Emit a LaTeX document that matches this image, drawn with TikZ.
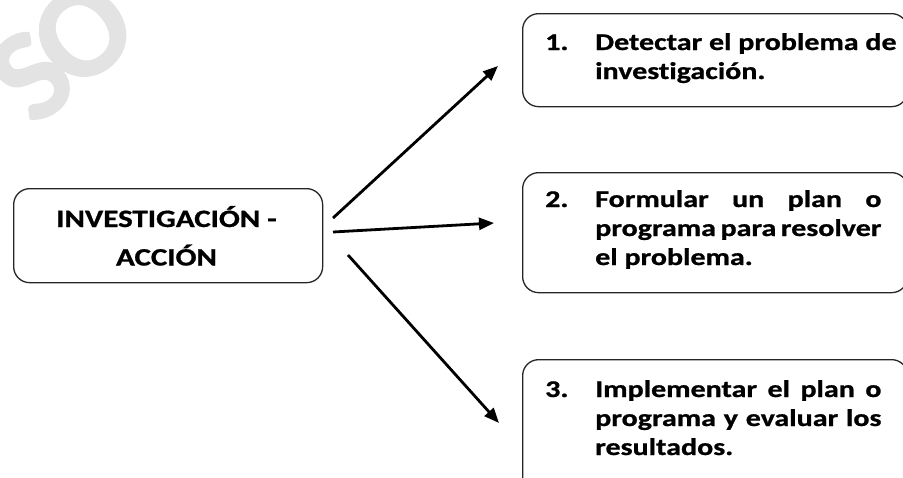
\documentclass[tikz,border=0pt]{standalone}
\usepackage{fontspec}
\usepackage{graphicx}
\setmainfont{Carlito}[Ligatures=NoCommon, BoldFeatures={FakeBold=0.8}]
\usetikzlibrary{arrows.meta}
\tikzset{
  box/.style={draw=black!85, line width=1.3pt, rounded corners=16pt, anchor=north west, inner sep=0pt},
  txt/.style={anchor=base west, inner sep=0pt, font=\fontsize{24}{29}\selectfont\bfseries},
  conn/.style={line width=2.8pt, -{Triangle[length=15pt,width=12pt]}},
  wm/.style={text=black!11, font=\fontsize{132}{132}\selectfont\bfseries, inner sep=0pt}
}
\newcommand{\wide}[1]{\scalebox{1.25}[1]{#1}}
\begin{document}
\begin{tikzpicture}[x=1pt,y=-1pt]
\useasboundingbox (0,0) rectangle (903,477);
\fill[white] (0,0) rectangle (903,477);
\clip (0,0) rectangle (903,477);
% watermark
\node[wm, rotate=40] (wmark) at (62,50) {S\kern-9pt O};
% left box
\node[box, minimum width=309pt, minimum height=94pt] (main) at (13,188) {};
\node[anchor=base, inner sep=0pt, font=\fontsize{25}{38.5}\selectfont\bfseries] (maintxt) at (166.5,227)
  {\scalebox{1.24}[1]{\parbox[t]{200pt}{\centering INVESTIGACIÓN -\\ACCIÓN}}};
% right boxes
\node[box, minimum width=385pt, minimum height=93pt] (b1) at (522,13) {};
\node[box, minimum width=385pt, minimum height=120pt] (b2) at (522,172) {};
\node[box, minimum width=385pt, minimum height=140pt] (b3) at (522,359) {};
% texts
\node[txt] (n1) at (545,50) {\wide{1.}};
\node[txt] (t1) at (595,50) {\wide{\parbox[t]{229pt}{\hbox{Detectar el problema de}%
  \hbox{investigación.}}}};
\node[txt] (n2) at (545,207) {\wide{2.}};
\node[txt] (t2) at (595,207) {\wide{\parbox[t]{229pt}{\hbox to 229pt{Formular\hfill un\hfill plan\hfill o}%
  \hbox to 229pt{programa\hfill para\hfill resolver}%
  \hbox{el problema.}}}};
\node[txt] (n3) at (545,397) {\wide{3.}};
\node[txt] (t3) at (595,397) {\wide{\parbox[t]{229pt}{\hbox to 229pt{Implementar\hfill el\hfill plan\hfill o}%
  \hbox to 229pt{programa\hfill y\hfill evaluar\hfill los}%
  \hbox{resultados.}}}};
% connectors
\coordinate (s1) at (333,218);
\coordinate (e1) at (498,66);
\coordinate (s2) at (333,232);
\coordinate (e2) at (494,223);
\coordinate (s3) at (348,255);
\coordinate (e3) at (499,423);
\draw[conn] (s1) -- (e1);
\draw[conn] (s2) -- (e2);
\draw[conn] (s3) -- (e3);
\end{tikzpicture}
\end{document}
